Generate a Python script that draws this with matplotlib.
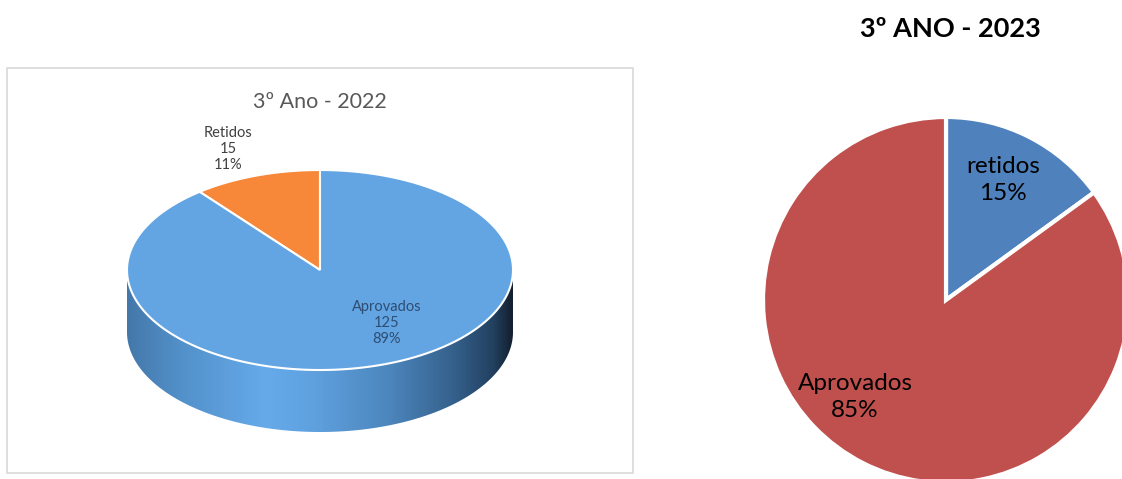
import numpy as np
import matplotlib
matplotlib.use("Agg")
import matplotlib.pyplot as plt
from matplotlib.patches import Polygon, Rectangle
from matplotlib.colors import LinearSegmentedColormap

plt.rcParams['font.family'] = ['Lato', 'DejaVu Sans']

W, H = 1122, 479

# 2022 - 3rd year
labels_2022 = ["Aprovados", "Retidos"]
counts_2022 = [125, 15]
pcts_2022 = ["89%", "11%"]

# 2023 - 3rd year
labels_2023 = ["retidos", "Aprovados"]
pcts_2023 = [15, 85]


def py(y):
    # pixel rows from the top -> data y
    return H - y


fig = plt.figure(figsize=(W / 100, H / 100), dpi=100)
ax = fig.add_axes([0, 0, 1, 1])
fig.patch.set_facecolor("white")

# ---------- left: 3D style pie ----------
ax.add_patch(Rectangle((7, py(473)), 626, 405, fill=False, ec="#d9d9d9", lw=1.2))
ax.text(320, py(102), "3º Ano - 2022", ha="center", va="center", fontsize=15.5, color="#595959")

cx, cy = 320, py(270)
a, b, depth = 193, 100, 62
top_blue = "#63a5e3"
top_orange = "#f7883a"


def ell(t):
    return cx + a * np.cos(t), cy + b * np.sin(t)


# side wall (front half of the cylinder) with a horizontal shading gradient
t = np.linspace(np.pi, 2 * np.pi, 300)
xs, ys = ell(t)
side = np.vstack([np.column_stack([xs, ys]), np.column_stack([xs[::-1], ys[::-1] - depth])])
side_patch = Polygon(side, closed=True, fc="none", ec="none")
ax.add_patch(side_patch)
stops = [(128, "#4478aa"), (180, "#5290c9"), (265, "#66aaea"), (310, "#60a2e0"),
         (390, "#4c86bd"), (455, "#35608b"), (495, "#22405f"), (513, "#13202f")]
cmap = LinearSegmentedColormap.from_list(
    "side", [((x - 128) / (513 - 128), c) for x, c in stops])
grad = np.linspace(0, 1, 400)[None, :]
im = ax.imshow(grad, cmap=cmap, extent=(cx - a, cx + a, cy - b - depth, cy + 2),
               aspect="auto", zorder=2, interpolation="bilinear")
im.set_clip_path(side_patch)

# top faces
total = sum(counts_2022)
start = np.pi / 2
sweep_ret = 2 * np.pi * counts_2022[1] / total
tt = np.linspace(start, start + sweep_ret, 80)
ox, oy = ell(tt)
ax.add_patch(Polygon(np.column_stack([np.r_[cx, ox], np.r_[cy, oy]]), closed=True,
                     fc=top_orange, ec="white", lw=1.5, zorder=3))
tt = np.linspace(start + sweep_ret, start + 2 * np.pi, 400)
bx, by = ell(tt)
ax.add_patch(Polygon(np.column_stack([np.r_[cx, bx], np.r_[cy, by]]), closed=True,
                     fc=top_blue, ec="white", lw=1.5, zorder=3))

ax.text(228, py(149), "\n".join([labels_2022[1], str(counts_2022[1]), pcts_2022[1]]),
        ha="center", va="center", fontsize=10.5, color="#404040", linespacing=1.2)
ax.text(387, py(323), "\n".join([labels_2022[0], str(counts_2022[0]), pcts_2022[0]]),
        ha="center", va="center", fontsize=10.5, color="#2e4d72", linespacing=1.2, zorder=4)

# ---------- right: flat pie with exploded slice ----------
ax.text(950, py(29), "3º ANO - 2023", ha="center", va="center", fontsize=19.5,
        fontweight="bold", color="black")
ax.pie(pcts_2023, colors=["#4f81bd", "#c0504d"], startangle=90, counterclock=False,
       center=(946, py(300)), radius=183, explode=[0.045, 0],
       wedgeprops=dict(edgecolor="white", linewidth=3), frame=True)
ax.text(1003, py(180), f"{labels_2023[0]}\n{pcts_2023[0]}%", ha="center", va="center",
        fontsize=17.5, color="black", linespacing=1.3)
ax.text(855, py(397), f"{labels_2023[1]}\n{pcts_2023[1]}%", ha="center", va="center",
        fontsize=17.5, color="black", linespacing=1.3)

ax.set_xlim(0, W)
ax.set_ylim(0, H)
ax.set_aspect("auto")
ax.axis("off")

fig.savefig("out.png", dpi=100, facecolor="white")
